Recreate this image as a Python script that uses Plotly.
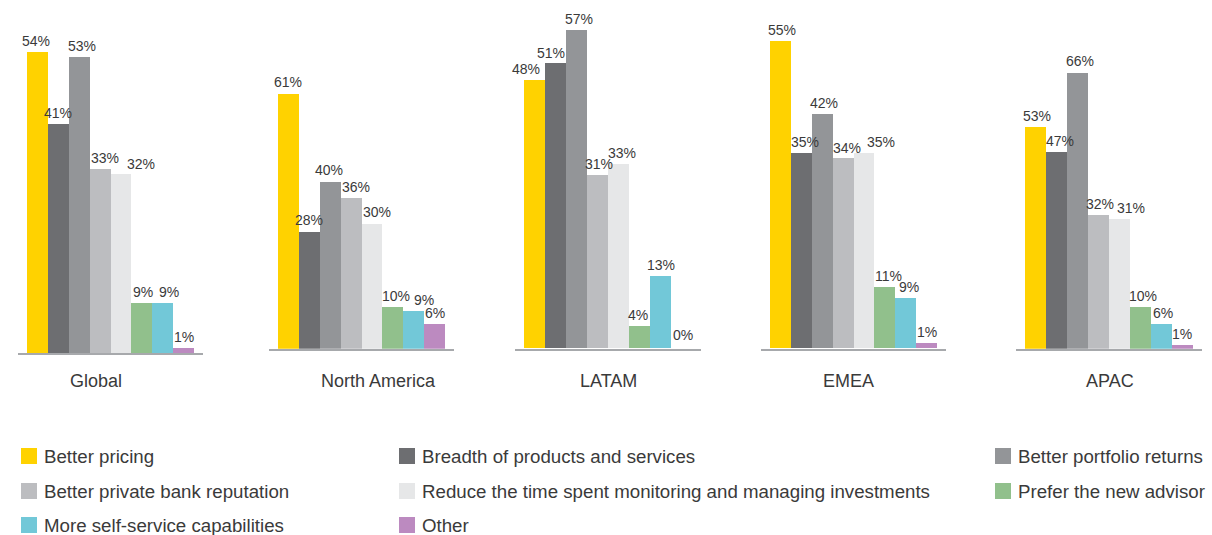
import plotly.graph_objects as go

# ---------------- data ----------------
regions = ["Global", "North America", "LATAM", "EMEA", "APAC"]
series = [
    "Better pricing",
    "Breadth of products and services",
    "Better portfolio returns",
    "Better private bank reputation",
    "Reduce the time spent monitoring and managing investments",
    "Prefer the new advisor",
    "More self-service capabilities",
    "Other",
]
global_vals = [54, 41, 53, 33, 32, 9, 9, 1]
north_america_vals = [61, 28, 40, 36, 30, 10, 9, 6]
latam_vals = [48, 51, 57, 31, 33, 4, 13, 0]
emea_vals = [55, 35, 42, 34, 35, 11, 9, 1]
apac_vals = [53, 47, 66, 32, 31, 10, 6, 1]
region_values = [global_vals, north_america_vals, latam_vals, emea_vals, apac_vals]

colors = ["#FFD200", "#6D6E71", "#939598", "#BCBDC0", "#E6E7E8",
          "#91C08C", "#72C8D8", "#BC8AC0"]

# ---------------- layout constants (pixels) ----------------
W, H = 1212, 535
FONT = "Liberation Sans"
TXT = "#3a3a3a"
AXIS_COL = "#A7A9AC"
# x0, x1, baseline, y-range top, px per unit
panels = [
    (18.0, 203.0, 353.3, 60, 5.585),
    (269.3, 454.3, 348.7, 80, 4.19),
    (515.0, 700.7, 348.7, 60, 5.59),
    (761.0, 946.0, 348.7, 60, 5.59),
    (1016.0, 1201.7, 348.7, 80, 4.19),
]
# horizontal nudges (px) of the value labels, as placed in the original
label_nudge = [
    [-1, 0, 3, 5, 20, 1, 6, 0],
    [-1, -1, -1, 5, 5, 3, 10, 0],
    [-8, -4, 3, 2, 4, -1, 1, 2],
    [2, 4, 2, 4, 17, 4, 3, 0],
    [2, 4, 3, 2, 12, 3, 2, 0],
]
label_x = [96, 378, 608, 848, 1110]
label_y = 381
PAD = 0.43


def fx(x):
    return x / W


def fy(y):
    return 1 - y / H


fig = go.Figure()
layout = dict(
    width=W, height=H,
    margin=dict(l=0, r=0, t=0, b=0),
    paper_bgcolor="white", plot_bgcolor="white",
    bargap=0, showlegend=False,
    font=dict(family=FONT, color=TXT),
)

annotations = []
shapes = []
for i, (region, vals) in enumerate(zip(regions, region_values)):
    sfx = "" if i == 0 else str(i + 1)
    x0, x1, base, top, scale = panels[i]
    fig.add_trace(go.Bar(
        x=series, y=vals, name=region,
        marker=dict(color=colors, line=dict(width=0)),
        xaxis="x" + sfx, yaxis="y" + sfx, cliponaxis=False,
        hovertemplate="%{x}: %{y}%<extra>" + region + "</extra>",
    ))
    layout["xaxis" + sfx] = dict(
        domain=[fx(x0), fx(x1)], anchor="y" + sfx,
        range=[-0.5 - PAD, len(series) - 0.5 + PAD],
        showline=True, linecolor=AXIS_COL, linewidth=2,
        showticklabels=False, ticks="", showgrid=False, zeroline=False,
    )
    layout["yaxis" + sfx] = dict(
        domain=[fy(base), fy(base - top * scale)], anchor="x" + sfx,
        range=[0, top], visible=False, showgrid=False, zeroline=False,
    )
    for k, v in enumerate(vals):
        annotations.append(dict(
            text=f"{v}%", x=series[k], y=v, xref="x" + sfx, yref="y" + sfx,
            xanchor="center", yanchor="bottom", showarrow=False,
            xshift=label_nudge[i][k], yshift=(4 if v == 0 else 1),
            font=dict(family=FONT, size=14, color=TXT),
        ))
    annotations.append(dict(
        text=region, x=fx(label_x[i]), y=fy(label_y), xref="paper", yref="paper",
        xanchor="center", yanchor="middle", showarrow=False,
        font=dict(family=FONT, size=18, color=TXT),
    ))

# ---------------- legend (3 columns) ----------------
col_marker_x = [21, 399, 995]
row_center_y = [456, 491, 525]
SW = 16
for k, name in enumerate(series):
    r, c = divmod(k, 3)
    mx = col_marker_x[c]
    cy = row_center_y[r]
    shapes.append(dict(
        type="rect", xref="paper", yref="paper",
        x0=fx(mx), x1=fx(mx + SW), y0=fy(cy + SW / 2), y1=fy(cy - SW / 2),
        fillcolor=colors[k], line=dict(width=0),
    ))
    annotations.append(dict(
        text=name, x=fx(mx + SW + 5), y=fy(cy), xref="paper", yref="paper",
        xanchor="left", yanchor="middle", showarrow=False,
        font=dict(family=FONT, size=18.7, color=TXT),
    ))

layout["annotations"] = annotations
layout["shapes"] = shapes
fig.update_layout(**layout)
fig.write_html("out.html", config={"displayModeBar": False},
               post_script="document.body.style.margin='0';")
